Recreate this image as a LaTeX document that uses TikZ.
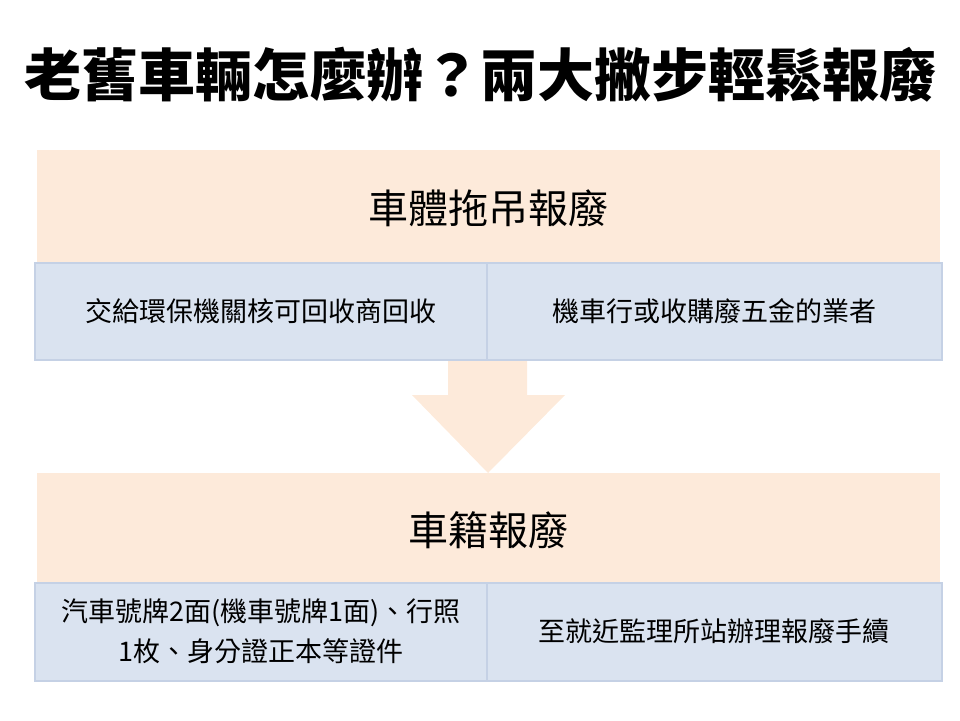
\documentclass[tikz,border=0pt]{standalone}
\usepackage{fontspec}
\newfontfamily\cjk{Noto Sans CJK TC}
\definecolor{peach}{HTML}{FDEADA}
\definecolor{lblue}{HTML}{DAE3F0}
\definecolor{bblue}{HTML}{C5D1E5}
\begin{document}
\begin{tikzpicture}[x=1pt,y=-1pt,
  band/.style={fill=peach,draw=none},
  cell/.style={fill=lblue,draw=bblue,line width=1.5pt},
  head/.style={font=\cjk\fontsize{40}{46}\selectfont},
  txt/.style={font=\cjk\fontsize{27}{40}\selectfont,align=center}]
\useasboundingbox (0,0) rectangle (960,720);
\node[font=\cjk\bfseries\fontsize{57}{64}\selectfont] (title) at (480,75) {老舊車輛怎麼辦？兩大撇步輕鬆報廢};
% band 1
\fill[band] (37,150) rectangle (940,263);
\node[head] (h1) at (488,208) {車體拖吊報廢};
\draw[cell] (35,263) rectangle (487,360);
\draw[cell] (487,263) rectangle (942,360);
\node[txt] (a1) at (261,311) {交給環保機關核可回收商回收};
\node[txt] (a2) at (714,311) {機車行或收購廢五金的業者};
% arrow
\fill[peach] (448,361) -- (527,361) -- (527,395) -- (565,395) -- (488,473) -- (412,395) -- (448,395) -- cycle;
% band 2
\fill[band] (37,473) rectangle (940,583);
\node[head] (h2) at (488,530) {車籍報廢};
\draw[cell] (35,583) rectangle (487,681);
\draw[cell] (487,583) rectangle (942,681);
\node[txt] (b1) at (261,631) {汽車號牌2面(機車號牌1面)、行照\\1枚、身分證正本等證件};
\node[txt] (b2) at (714,631) {至就近監理所站辦理報廢手續};
\end{tikzpicture}
\end{document}
